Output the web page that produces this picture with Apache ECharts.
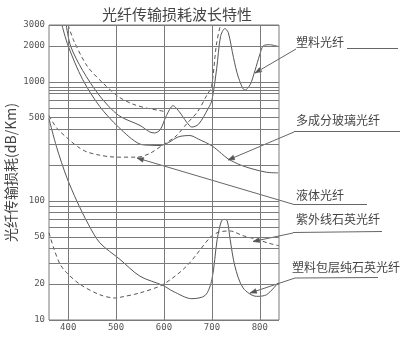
<!DOCTYPE html>
<html><head><meta charset="utf-8">
<script src="https://cdn.jsdelivr.net/npm/echarts@6/dist/echarts.min.js"></script>
<style>html,body{margin:0;padding:0;background:#fff}#c{width:401px;height:353px}</style>
</head><body><div id="c"></div>
<script>
// ---- data (wavelength nm, loss dB/km) ----
const plasticX = [396,405,430,466,505,550,570,580,592,605,619,632,647,658,672,692,700,710,718,727,734,745,755,769,780,790,800,807,820,838];
const plasticY = [3000,2000,1250,760,523,430,380,372,395,520,630,560,460,417,440,595,700,1300,2400,2800,2600,1600,1100,850,950,1250,1700,2000,2050,1980];
const glassX = [387,400,430,466,505,550,575,592,610,630,654,672,700,720,734,760,786,814,838];
const glassY = [3000,2000,1050,620,417,300,293,292,310,345,354,330,290,250,225,200,185,174,172];
const liquidX = [360,376,397,420,439,466,487,508,543,570,598,625,647,670,690,699,709,717,721];
const liquidY = [520,410,340,285,258,242,235,233,233,250,296,350,443,560,780,900,2000,2900,3000];
const liquidUpperX = [400,412,440,470,505,535,565,590,605];
const liquidUpperY = [3000,2200,1350,1000,750,650,600,575,560];
const uvX = [360,370,383,397,425,466,498,508,550,598,647,699,717,738,765,793,820,840];
const uvY = [54,40,29.4,24.9,19.9,16.3,15.3,15.5,16.9,19.9,28.3,50.7,55,55.9,51,47.6,44,42];
const cladX = [360,376,397,418,442,466,508,550,598,619,658,686,700,711,720,726,732,738,748,765,793,814,838];
const cladY = [490,282,158,100,63.8,44.5,32.3,23.3,19.5,17.4,15.1,16.1,21.9,47.6,68,70,68,47.6,28.3,18.6,15.8,16.3,20.5];
// ---- axes / ticks ----
const xTickValues = [400,500,600,700,800];
const yTickLabels = [3000,2000,1000,500,100,50,20,10];
const yGridValues = [2000,1000,900,850,800,700,600,500,400,300,200,100,90,80,70,60,50,40,30,20];
const seriesNames = ['塑料光纤','多成分玻璃光纤','液体光纤','紫外线石英光纤','塑料包层纯石英光纤'];
const titleText = '光纤传输损耗波长特性';
const yName = '光纤传输损耗(dB/Km)';

const zip = (xs, ys) => xs.map((x, i) => [x, ys[i]]);
const C = '#555';
const gridColor = '#7a7a7a';
const labelSet = new Set(yTickLabels);
const yVals = Array.from(new Set([...yTickLabels, ...yGridValues]));
const markData = [];
yVals.forEach(v => markData.push({
  yAxis: v,
  lineStyle: {color: gridColor, width: 1, type: 'solid'},
  label: {show: labelSet.has(v), position: 'start', formatter: String(v), distance: 4,
    color: '#555', fontFamily: 'DejaVu Sans Mono', fontSize: 9}
}));
xTickValues.forEach(v => markData.push({
  xAxis: v,
  lineStyle: {color: gridColor, width: 1, type: 'solid'},
  label: {show: true, position: 'start', formatter: String(v), distance: 3,
    color: '#555', fontFamily: 'DejaVu Sans Mono', fontSize: 9}
}));

function mk(name, xs, ys, dashed, extra) {
  return Object.assign({
    name, type: 'line', data: zip(xs, ys), showSymbol: false, symbol: 'none',
    smooth: 0.3, silent: true, animation: false,
    lineStyle: {color: C, width: 1, type: dashed ? [4, 3] : 'solid'}
  }, extra || {});
}

const chart = echarts.init(document.getElementById('c'), null, {renderer: 'canvas'});

function arrow(x1, y1, x2, y2) {
  const a = Math.atan2(y2 - y1, x2 - x1), L = 7, w = 0.35;
  return {type: 'polygon', silent: true,
    shape: {points: [[x2, y2], [x2 - L * Math.cos(a - w), y2 - L * Math.sin(a - w)], [x2 - L * Math.cos(a + w), y2 - L * Math.sin(a + w)]]},
    style: {fill: C, stroke: C, lineWidth: 0.5}};
}
function line(pts) {
  return {type: 'polyline', silent: true, shape: {points: pts}, style: {stroke: '#666', lineWidth: 1, fill: null}};
}
const annFont = {fontSize: 12, fontFamily: 'Noto Sans CJK SC', fill: '#444'};
const graphics = [
  {type: 'text', left: 296, top: 36, style: Object.assign({text: seriesNames[0]}, annFont)},
  line([[347, 48.5], [398, 48.5]]), line([[296, 49], [255, 73]]), arrow(296, 49, 255, 73),
  {type: 'text', left: 296, top: 114, style: Object.assign({text: seriesNames[1]}, annFont)},
  line([[294, 131.5], [400, 131.5]]), line([[294, 132], [228, 160]]), arrow(294, 132, 228, 160),
  {type: 'text', left: 296, top: 189, style: Object.assign({text: seriesNames[2]}, annFont)},
  line([[294, 204.5], [367, 204.5]]), line([[294, 204.5], [137, 158]]), arrow(294, 204.5, 137, 158),
  {type: 'text', left: 296, top: 213, style: Object.assign({text: seriesNames[3]}, annFont)},
  line([[293, 232.5], [382, 231.5]]), line([[293, 233], [253, 241.5]]), arrow(293, 233, 253, 241.5),
  {type: 'text', left: 292, top: 261, style: Object.assign({text: seriesNames[4]}, annFont)},
  line([[295, 278], [378, 277.5]]), line([[295, 278], [250, 293]]), arrow(295, 278, 250, 293)
];

chart.setOption({
  animation: false,
  backgroundColor: '#fff',
  title: {text: titleText, left: 97, top: 2,
    textStyle: {fontSize: 15, fontWeight: 'normal', color: '#444', fontFamily: 'Noto Sans CJK SC'}},
  grid: {left: 49, top: 25, width: 230, height: 295, show: true, borderColor: gridColor, borderWidth: 1,
    containLabel: false, outerBoundsMode: 'none'},
  xAxis: {type: 'value', min: 360, max: 840, axisLine: {show: false}, axisTick: {show: false},
    axisLabel: {show: false}, splitLine: {show: false}},
  yAxis: {type: 'log', logBase: 10, min: 10, max: 3000, axisLine: {show: false}, axisTick: {show: false},
    axisLabel: {show: false}, splitLine: {show: false}, minorSplitLine: {show: false},
    name: yName, nameLocation: 'middle', nameRotate: 90, nameGap: 31,
    nameTextStyle: {fontSize: 14, color: '#444', fontFamily: 'Noto Sans CJK SC'}},
  series: [
    mk(seriesNames[0], plasticX, plasticY, false, {
      markLine: {silent: true, symbol: ['none', 'none'], animation: false, data: markData}
    }),
    mk(seriesNames[1], glassX, glassY, false),
    mk(seriesNames[2], liquidX, liquidY, true),
    mk(seriesNames[2] + '(2)', liquidUpperX, liquidUpperY, true),
    mk(seriesNames[3], uvX, uvY, true),
    mk(seriesNames[4], cladX, cladY, false)
  ],
  graphic: graphics
});
</script></body></html>
